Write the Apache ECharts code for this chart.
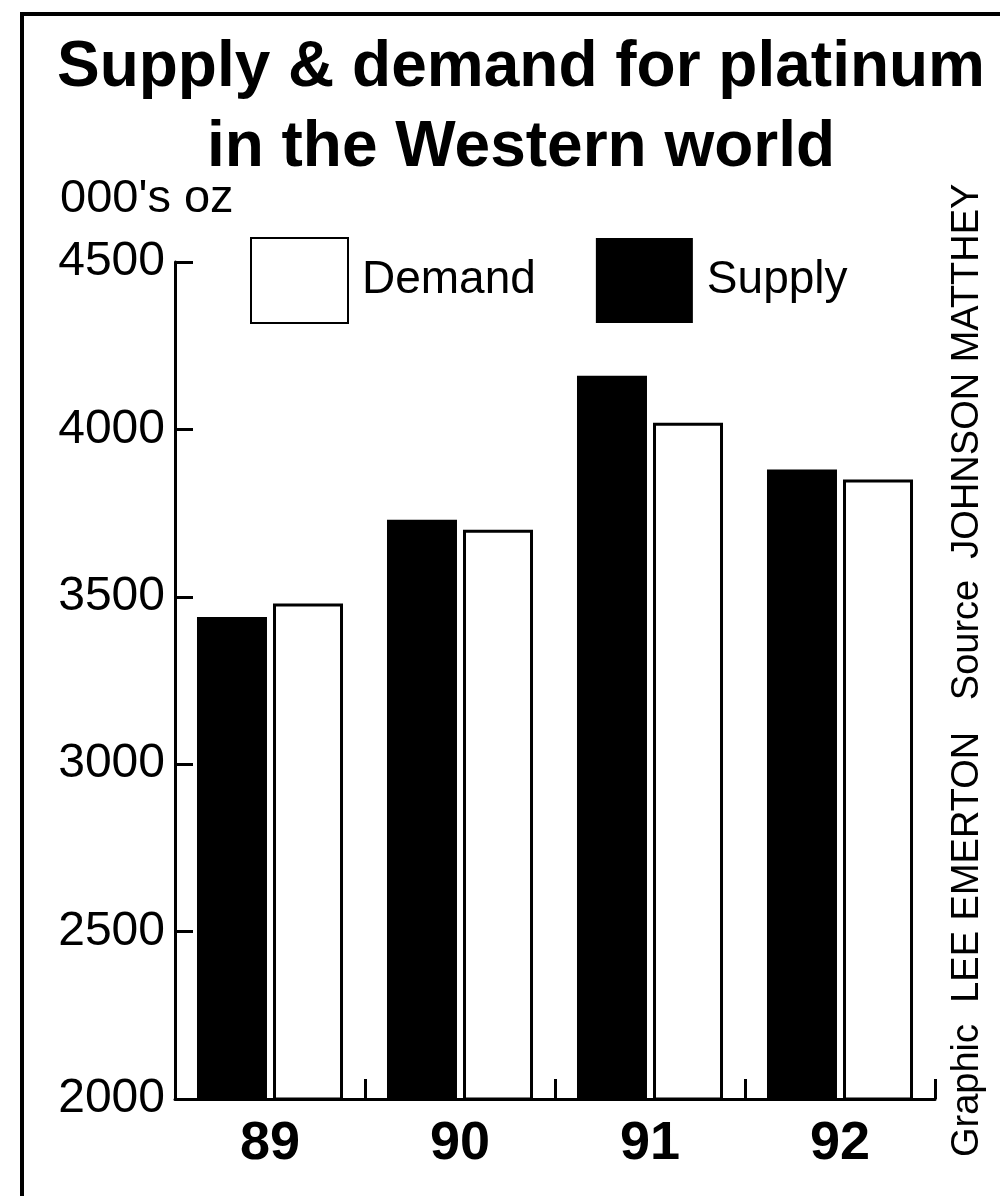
<!DOCTYPE html>
<html>
<head>
<meta charset="utf-8">
<script src="https://cdn.jsdelivr.net/npm/echarts@6/dist/echarts.min.js"></script>
<style>
html,body{margin:0;padding:0;background:#fff;}
#chart{width:1000px;height:1196px;}
</style>
</head>
<body>
<div id="chart"></div>
<script>
const categories = ['89', '90', '91', '92'];
const supply = [3440, 3730, 4160, 3880];
const demand = [3480, 3700, 4020, 3850];
const yTicks = [2000, 2500, 3000, 3500, 4000, 4500];
const titleText = 'Supply & demand for platinum\nin the Western world';
const unitText = "000's oz";
const creditText = 'Graphic  LEE EMERTON   Source  JOHNSON MATTHEY';

function hasFont(name) {
  const c = document.createElement('canvas').getContext('2d');
  const t = 'Supply & demand 0123456789';
  c.font = 'bold 40px monospace';
  const a = c.measureText(t).width;
  c.font = "bold 40px '" + name + "', monospace";
  const b = c.measureText(t).width;
  return Math.abs(a - b) > 0.5;
}
const narrow = hasFont('Liberation Sans Narrow');
const NARROW = narrow ? "'Liberation Sans Narrow', 'Liberation Sans', Arial, sans-serif" : "'Liberation Sans', Arial, sans-serif";
const SANS = "'Liberation Sans', Arial, sans-serif";

const chart = echarts.init(document.getElementById('chart'), null, {renderer: 'canvas'});
const option = {
  backgroundColor: '#ffffff',
  animation: false,
  title: [
    {
      text: titleText,
      left: 521,
      top: 28,
      padding: 0,
      textAlign: 'center',
      textStyle: {
        fontFamily: NARROW,
        fontWeight: 'bold',
        fontSize: narrow ? 78 : 64,
        lineHeight: 80,
        color: '#000'
      }
    },
    {
      text: unitText,
      left: 60,
      top: 176,
      padding: 0,
      textStyle: {fontFamily: SANS, fontWeight: 'normal', fontSize: 47, color: '#000'}
    }
  ],
  legend: {
    left: 250,
    top: 237,
    padding: 0,
    itemWidth: 97,
    itemHeight: 85,
    itemGap: 60,
    icon: 'rect',
    data: ['Demand', 'Supply'],
    textStyle: {fontFamily: SANS, fontSize: 46, color: '#000', padding: [0, 0, 0, 9]}
  },
  grid: {left: 175, right: 65, top: 262, bottom: 97, containLabel: false},
  xAxis: {
    type: 'category',
    data: categories,
    axisLine: {lineStyle: {color: '#000', width: 3}},
    axisTick: {show: true, inside: true, length: 20, interval: 0, lineStyle: {color: '#000', width: 3}},
    axisLabel: {margin: 18, fontFamily: SANS, fontWeight: 'bold', fontSize: 54, color: '#000'},
    splitLine: {show: false}
  },
  yAxis: {
    type: 'value',
    min: yTicks[0],
    max: yTicks[yTicks.length - 1],
    interval: yTicks[1] - yTicks[0],
    axisLine: {show: true, lineStyle: {color: '#000', width: 3}},
    axisTick: {show: true, inside: true, length: 18, lineStyle: {color: '#000', width: 3}},
    axisLabel: {margin: 10, fontFamily: SANS, fontSize: 48, color: '#000', formatter: function (v) { return String(v); }},
    splitLine: {show: false}
  },
  series: [
    {
      name: 'Supply',
      type: 'bar',
      data: supply,
      barWidth: 70,
      barGap: '8.6%',
      itemStyle: {color: '#000', borderColor: '#000', borderWidth: 0}
    },
    {
      name: 'Demand',
      type: 'bar',
      data: demand,
      barWidth: 70,
      barGap: '8.6%',
      itemStyle: {color: '#fff', borderColor: '#000', borderWidth: 3}
    }
  ],
  graphic: [
    {
      type: 'polyline',
      shape: {points: [[22, 1196], [22, 14], [1000, 14]]},
      style: {stroke: '#000', lineWidth: 4, fill: null},
      silent: true
    },
    {
      type: 'text',
      x: 968,
      y: 1157,
      rotation: Math.PI / 2,
      style: {
        text: creditText,
        fontFamily: NARROW,
        fontSize: narrow ? 45 : 38,
        fill: '#000',
        textAlign: 'left',
        textVerticalAlign: 'middle'
      },
      silent: true
    }
  ]
};
chart.setOption(option);
</script>
</body>
</html>
